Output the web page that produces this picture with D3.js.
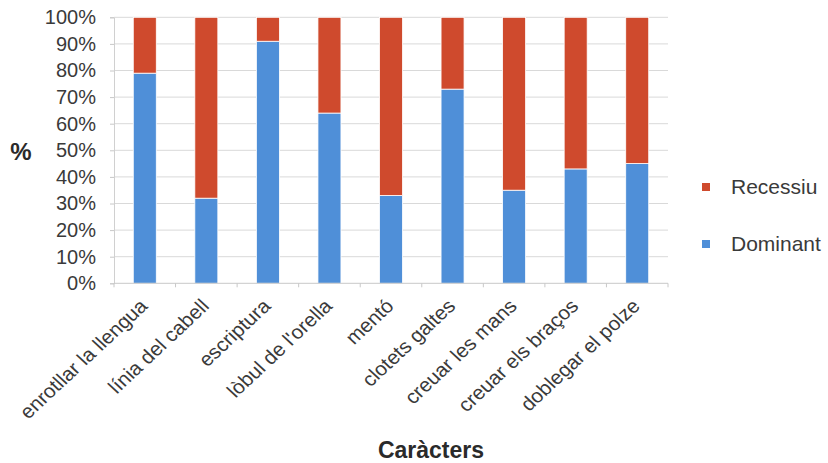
<!DOCTYPE html>
<html>
<head>
<meta charset="utf-8">
<script src="https://cdn.jsdelivr.net/npm/d3@7"></script>
<style>
  html, body { margin: 0; padding: 0; background: #fff; }
  svg { display: block; font-family: "Liberation Sans", Arial, sans-serif; }
</style>
</head>
<body>
<svg id="chart" width="828" height="463"></svg>
<script>
// Inherited trait frequencies (share of the class showing each phenotype)
const categories = [
  "enrotllar la llengua", "línia del cabell", "escriptura", "lòbul de l'orella",
  "mentó", "clotets galtes", "creuar les mans", "creuar els braços", "doblegar el polze"
];
const dominant = [0.79, 0.32, 0.91, 0.64, 0.33, 0.73, 0.35, 0.43, 0.45];
const recessive = [0.21, 0.68, 0.09, 0.36, 0.67, 0.27, 0.65, 0.57, 0.55];
const seriesNames = ["Dominant", "Recessiu"];
const yTicks = [0, 0.1, 0.2, 0.3, 0.4, 0.5, 0.6, 0.7, 0.8, 0.9, 1];

const colors = { Dominant: "#4f8fd8", Recessiu: "#cf4a2d" };
const font = "'Liberation Sans', Arial, sans-serif";

const svg = d3.select("#chart");
const plot = { left: 114, right: 668, top: 17.3, bottom: 283.3 };

const x = d3.scaleBand().domain(categories).range([plot.left, plot.right]).paddingInner(0).paddingOuter(0);
const y = d3.scaleLinear().domain([0, 1]).range([plot.bottom, plot.top]);

// horizontal gridlines
svg.append("g")
  .selectAll("line")
  .data(yTicks.slice(1))
  .join("line")
  .attr("x1", plot.left).attr("x2", plot.right)
  .attr("y1", d => y(d)).attr("y2", d => y(d))
  .attr("stroke", "#d9d9d9").attr("stroke-width", 1);

// y axis
const yAxis = svg.append("g")
  .attr("transform", `translate(${plot.left},0)`)
  .call(d3.axisLeft(y).tickValues(yTicks).tickFormat(d3.format(".0%")).tickSize(4).tickPadding(14));
yAxis.select(".domain").attr("stroke", "#d0d0d0");
yAxis.selectAll(".tick line").attr("stroke", "#c8c8c8");
yAxis.selectAll("text").attr("font-size", 20).attr("fill", "#3a3a3a").attr("font-family", font);

// stacked bars
const rows = categories.map((c, i) => ({ cat: c, Dominant: dominant[i], Recessiu: recessive[i] }));
const stacked = d3.stack().keys(seriesNames)(rows);
const barW = 23;

svg.append("g")
  .selectAll("g")
  .data(stacked)
  .join("g")
  .attr("fill", d => colors[d.key])
  .selectAll("rect")
  .data(d => d)
  .join("rect")
  .attr("x", d => x(d.data.cat) + x.bandwidth() / 2 - barW / 2)
  .attr("width", barW)
  .attr("y", d => y(d[1]))
  .attr("height", d => y(d[0]) - y(d[1]))
  .attr("stroke", "#ffffff")
  .attr("stroke-width", 0.8);

// x axis with ticks between categories
const xAxis = svg.append("g").attr("transform", `translate(0,${plot.bottom})`);
xAxis.append("line")
  .attr("x1", plot.left).attr("x2", plot.right)
  .attr("stroke", "#c8c8c8");
xAxis.selectAll("line.sep")
  .data(d3.range(categories.length + 1))
  .join("line")
  .attr("class", "sep")
  .attr("x1", i => plot.left + i * x.step()).attr("x2", i => plot.left + i * x.step())
  .attr("y1", 0).attr("y2", 4)
  .attr("stroke", "#c8c8c8");

// slanted category labels
const labelAxis = svg.append("g")
  .attr("transform", `translate(0,${plot.bottom})`)
  .call(d3.axisBottom(x).tickSize(0).tickPadding(0));
labelAxis.select(".domain").remove();
labelAxis.selectAll("text")
  .attr("font-size", 19.5)
  .attr("fill", "#3a3a3a")
  .attr("font-family", font)
  .attr("text-anchor", "end")
  .attr("dy", 0)
  .attr("y", 0)
  .attr("transform", "translate(4,24) scale(1.07,1) rotate(-45)");

// axis titles
svg.append("text")
  .attr("x", 21).attr("y", 160)
  .attr("text-anchor", "middle")
  .attr("font-size", 24).attr("font-weight", "bold").attr("fill", "#2a2a2a")
  .text("%");

svg.append("text")
  .attr("x", 431).attr("y", 458)
  .attr("text-anchor", "middle")
  .attr("font-size", 23).attr("font-weight", "bold").attr("fill", "#2a2a2a")
  .text("Caràcters");

// legend
const legendItems = [
  { key: "Recessiu", y: 187 },
  { key: "Dominant", y: 244 }
];
const legend = svg.append("g");
legend.selectAll("rect")
  .data(legendItems)
  .join("rect")
  .attr("x", 702).attr("y", d => d.y - 4).attr("width", 8).attr("height", 8)
  .attr("fill", d => colors[d.key]);
legend.selectAll("text")
  .data(legendItems)
  .join("text")
  .attr("x", 731).attr("y", d => d.y + 7)
  .attr("font-size", 21).attr("fill", "#3a3a3a")
  .text(d => d.key);
</script>
</body>
</html>
